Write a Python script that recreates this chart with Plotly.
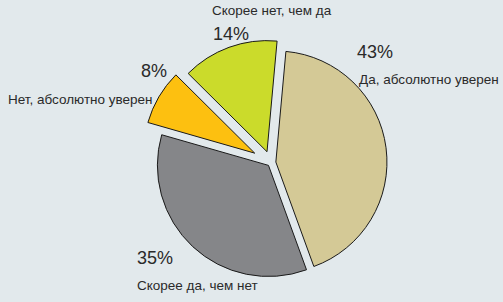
import plotly.graph_objects as go

labels = ["Да, абсолютно уверен", "Скорее да, чем нет", "Нет, абсолютно уверен", "Скорее нет, чем да"]
values = [43, 35, 8, 14]
colors = ["#d4c996", "#858689", "#fdc010", "#cbdb2b"]
pulls = [0.044, 0.033, 0.17, 0.105]

W, H = 503, 302
fig = go.Figure()
fig.add_trace(go.Pie(
    labels=labels, values=values, sort=False, direction="clockwise",
    rotation=5.2, pull=pulls, textinfo="none", hoverinfo="label+percent",
    marker=dict(colors=colors, line=dict(color="#1a1a1a", width=1)),
    domain=dict(x=[141 / W, 401 / W], y=[9.3 / H, 269.3 / H]),
    showlegend=False,
))

# text placements (pixels from top-left): (label_x, label_y, pct_x, pct_y)
label_pos = [(357, 79, 355, 52), (135, 285, 135, 258), (6, 99, 139, 71), (210, 11, 211, 34)]
for lab, val, (lx, ly, px, py) in zip(labels, values, label_pos):
    fig.add_annotation(x=lx / W, y=1 - ly / H, xref="paper", yref="paper", text=lab,
                       showarrow=False, xanchor="left", yanchor="middle",
                       font=dict(family="Liberation Sans, Arial", size=13.5, color="#2a2a2a"))
    fig.add_annotation(x=px / W, y=1 - py / H, xref="paper", yref="paper", text=f"{val}%",
                       showarrow=False, xanchor="left", yanchor="middle",
                       font=dict(family="Liberation Sans, Arial", size=18, color="#2a2a2a"))

fig.update_layout(width=W, height=H, margin=dict(l=0, r=0, t=0, b=0),
                  paper_bgcolor="#e2e9ec", plot_bgcolor="#e2e9ec")
fig.write_html("out.html")
